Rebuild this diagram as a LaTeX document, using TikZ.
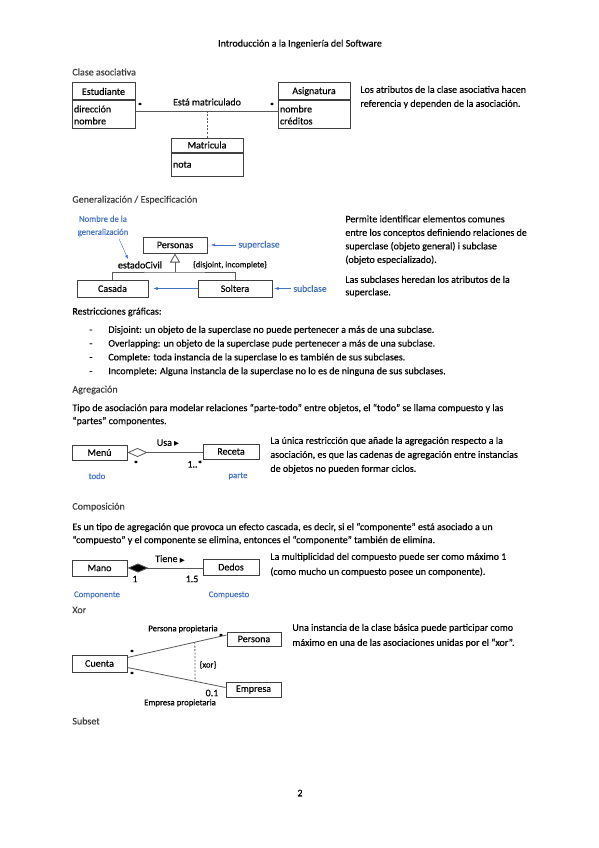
\documentclass[tikz,border=0pt]{standalone}
\usepackage{fontspec}
\setmainfont{Carlito}[FakeBold=0.3]
\newfontfamily\symfont{DejaVu Sans}
\usetikzlibrary{arrows.meta,positioning,shapes}

\definecolor{azul}{RGB}{68,114,196}
\definecolor{gris}{RGB}{64,64,64}

\begin{document}
\begin{tikzpicture}[x=1pt, y=-1pt, thick]

	\tikzstyle{clase}=[rectangle, draw=black!75, line width=1pt, inner sep=1pt, text=black, font=\fontsize{10}{12}\selectfont]
	\tikzstyle{attrs}=[clase, anchor=north west, align=left, inner xsep=2pt]
	\tikzstyle{texto}=[anchor=north west, inner sep=0pt, align=left, text=black, font=\fontsize{10}{14}\selectfont]
	\tikzstyle{titulo}=[anchor=west, inner sep=0pt, text=gris, font=\fontsize{10}{12}\selectfont]
	\tikzstyle{etiq}=[inner sep=0pt, text=black, font=\fontsize{10}{12}\selectfont]
	\tikzstyle{nota}=[inner sep=0pt, text=azul, font=\fontsize{8.7}{13}\selectfont]
	\tikzstyle{linea}=[draw=black!65, line width=0.8pt]

	\useasboundingbox[fill=white] (0,0) rectangle (599,848);

	% page header
	\node[etiq] (cabecera) at (300,44) {Introducción a la Ingeniería del Software};
	\node[etiq] (pagina) at (300,793) {2};

	% Clase asociativa
	\node[titulo] (t1) at (72,72) {Clase asociativa};
	\node[clase, minimum width=63pt, minimum height=17pt] (est) at (103.5,91.5) {Estudiante};
	\node[attrs, text width=59pt, minimum height=28pt] (estattr) at (est.south west) {dirección\\nombre};
	\node[clase, minimum width=72pt, minimum height=17pt] (asig) at (314,91.5) {Asignatura};
	\node[attrs, text width=68pt, minimum height=28pt] (asigattr) at (asig.south west) {nombre\\créditos};
	\node[clase, minimum width=72pt, minimum height=14pt] (matr) at (207,145) {Matricula};
	\node[attrs, text width=68pt, minimum height=23pt] (matrattr) at (matr.south west) {nota};

	\coordinate (asoc) at (207,111);
	\draw[linea] (estattr.east |- asoc) -- (asigattr.west |- asoc);
	\draw[linea, dashed, dash pattern=on 2pt off 1.5pt] (asoc) -- (matr.north);
	\node[etiq] (asocnom) at (207,102) {Está matriculado};
	\node[etiq] (m1) at (140,106) {*};
	\node[etiq] (m2) at (272,106) {*};

	\node[texto] (d1) at (360,85.5) {Los atributos de la clase asociativa hacen\\referencia y dependen de la asociación.};

	% Generalizacion
	\node[titulo] (t2) at (72,200) {Generalización / Especificación};
	\node[clase, minimum width=64pt, minimum height=16pt] (personas) at (175,245) {Personas};
	\node[clase, minimum width=71pt, minimum height=17pt] (casada) at (112.5,288.5) {Casada};
	\node[clase, minimum width=74pt, minimum height=17pt] (soltera) at (235,288.5) {Soltera};

	\coordinate (gen) at (175,272);
	\draw[linea] (casada.north) |- (gen) -| (soltera.north);
	\draw[linea, -{Triangle[open, length=9pt, width=10pt]}] (gen) -- (personas.south);

	\node[etiq] (civil) at (140,265) {estadoCivil};
	\node[etiq, font=\fontsize{8.5}{10}\selectfont] (restr) at (230,265) {\{disjoint, incomplete\}};
	\node[nota, align=center] (nomgen) at (103,226) {Nombre de la\\generalización};
	\draw[azul, thin, -{Latex[length=4pt]}] ([xshift=16pt,yshift=-2pt]nomgen.south) -- ([xshift=-12pt,yshift=2pt]civil.north);

	\node[nota, anchor=west, font=\fontsize{9.6}{12}\selectfont] (super) at (238,245) {superclase};
	\draw[azul, thin, -{Latex[length=4pt]}] ([xshift=-2pt]super.west) -- ++(-25,0);
	\node[nota, anchor=west, font=\fontsize{9.6}{12}\selectfont] (sub) at (293,288.5) {subclase};
	\draw[azul, thin, -{Latex[length=4pt]}] ([xshift=-2pt]sub.west) -- ([xshift=2pt]soltera.east);
	\draw[azul, thin, -{Latex[length=4pt]}] (soltera.west) -- ([xshift=5pt]casada.east);

	\node[texto, font=\fontsize{10}{13.5}\selectfont] (d2) at (345,215) {Permite identificar elementos comunes\\entre los conceptos definiendo relaciones de\\superclase (objeto general) i subclase\\(objeto especializado).};
	\node[texto, font=\fontsize{10}{12.5}\selectfont] (d3) at (345,275.5) {Las subclases heredan los atributos de la\\superclase.};

	% Restricciones graficas
	\node[titulo, text=black] (t3) at (72,312) {Restricciones gráficas:};
	\foreach \txt [count=\i] in {{Disjoint: un objeto de la superclase no puede pertenecer a más de una subclase.},
		{Overlapping: un objeto de la superclase pude pertenecer a más de una subclase.},
		{Complete: toda instancia de la superclase lo es también de sus subclases.},
		{Incomplete: Alguna instancia de la superclase no lo es de ninguna de sus subclases.}}
	{
		\node[titulo, text=black, anchor=base west] (guion\i) at (89,319+13.8*\i) {-};
		\node[titulo, text=black, anchor=base west] (item\i) at (108,319+13.8*\i) {\txt};
	}

	% Agregacion
	\node[titulo] (t4) at (72,390) {Agregación};
	\node[texto, font=\fontsize{10}{13}\selectfont] (d4) at (72,403.5) {Tipo de asociación para modelar relaciones “parte-todo” entre objetos, el “todo” se llama compuesto y las\\“partes” componentes.};
	\node[clase, minimum width=55pt, minimum height=15pt] (menu) at (99.5,452.5) {Menú};
	\node[clase, minimum width=56pt, minimum height=15pt] (receta) at (231,451.5) {Receta};
	\draw[linea, {Diamond[open, length=20pt, width=9pt]}-] (menu.east) -- (receta.west |- menu.east);
	\node[etiq] (usa) at (168,443) {Usa {\symfont\fontsize{6.5}{8}\selectfont ▶}};
	\node[etiq] (m3) at (136,464) {*};
	\node[etiq] (m4) at (195,464) {1..*};
	\node[nota] (todo) at (97,476) {todo};
	\node[nota] (parte) at (238,476) {parte};
	\node[texto] (d5) at (270,436.5) {La única restricción que añade la agregación respecto a la\\asociación, es que las cadenas de agregación entre instancias\\de objetos no pueden formar ciclos.};

	% Composicion
	\node[titulo] (t5) at (72,507) {Composición};
	\node[texto, font=\fontsize{10}{13}\selectfont] (d6) at (72,522.5) {Es un tipo de agregación que provoca un efecto cascada, es decir, si el “componente” está asociado a un\\“compuesto” y el componente se elimina, entonces el “componente” también de elimina.};
	\node[clase, minimum width=55pt, minimum height=16pt] (mano) at (99.5,568) {Mano};
	\node[clase, minimum width=56pt, minimum height=16pt] (dedos) at (231,567) {Dedos};
	\draw[linea, {Diamond[length=21pt, width=9pt, fill=black]}-] (mano.east) -- (dedos.west |- mano.east);
	\node[etiq] (tiene) at (170,559) {Tiene {\symfont\fontsize{6.5}{8}\selectfont ▶}};
	\node[etiq] (m5) at (135,579) {1};
	\node[etiq] (m6) at (192,579) {1.5};
	\node[nota] (compo) at (97,595) {Componente};
	\node[nota] (compu) at (229,595) {Compuesto};
	\node[texto, font=\fontsize{10}{15}\selectfont] (d7) at (270,552.5) {La multiplicidad del compuesto puede ser como máximo 1\\(como mucho un compuesto posee un componente).};

	% Xor
	\node[titulo] (t6) at (72,610) {Xor};
	\node[clase, minimum width=55pt, minimum height=17pt] (cuenta) at (99.5,663.5) {Cuenta};
	\node[clase, minimum width=54pt, minimum height=14pt] (persona) at (254,639) {Persona};
	\node[clase, minimum width=55pt, minimum height=15pt] (empresa) at (253.5,689.5) {Empresa};
	\draw[linea] ([yshift=6pt]cuenta.east) -- coordinate[pos=0.68] (xa) ([yshift=4pt]persona.west);
	\draw[linea] ([yshift=-4pt]cuenta.east) -- coordinate[pos=0.69] (xb) ([yshift=2pt]empresa.west);
	\draw[linea, dashed, dash pattern=on 2pt off 1.5pt] (xa) -- (xb);
	\node[etiq, font=\fontsize{8.7}{10}\selectfont] (xor) at (208,665) {\{xor\}};
	\node[etiq] (m7) at (132,653) {*};
	\node[etiq] (m8) at (132,675) {*};
	\node[etiq] (m9) at (221,637) {*};
	\node[etiq] (m10) at (212,693) {0.1};
	\node[etiq, font=\fontsize{8.7}{10}\selectfont] (perprop) at (183,629) {Persona propietaria};
	\node[etiq, font=\fontsize{8.7}{10}\selectfont] (empprop) at (180,703) {Empresa propietaria};
	\node[texto, font=\fontsize{10}{15}\selectfont] (d8) at (292,623.5) {Una instancia de la clase básica puede participar como\\máximo en una de las asociaciones unidas por el “xor”.};

	\node[titulo] (t7) at (72,721) {Subset};

\end{tikzpicture}
\end{document}
